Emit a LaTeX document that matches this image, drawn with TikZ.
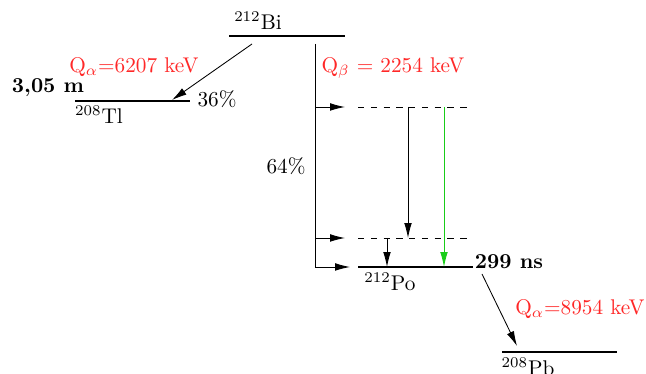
\documentclass[tikz,border=0pt]{standalone}
\usepackage{amsmath,amssymb}
\usepackage{tikz}
\usetikzlibrary{arrows.meta}
\definecolor{qred}{RGB}{255,40,40}
\definecolor{ggreen}{RGB}{25,205,25}

\begin{document}
\begin{tikzpicture}[x=0.47pt,y=-0.47pt,>={Latex[length=7pt,width=3.6pt]},
  level/.style={line width=0.8pt},
  qlab/.style={text=qred}]
\useasboundingbox (0,0) rectangle (646,374);
% levels
\coordinate (Bi1) at (229,36);
\coordinate (Bi2) at (345,36);
\coordinate (Tl1) at (75,101);
\coordinate (Tl2) at (190,101);
\coordinate (Po1) at (358,267);
\coordinate (Po2) at (473,267);
\coordinate (Pb1) at (502,352);
\coordinate (Pb2) at (617,352);
\coordinate (Ea1) at (358,107);
\coordinate (Ea2) at (468,107);
\coordinate (Eb1) at (358,238);
\coordinate (Eb2) at (468,238);
\draw[level] (Bi1)--(Bi2);
\draw[level] (Tl1)--(Tl2);
\draw[level] (Po1)--(Po2);
\draw[level] (Pb1)--(Pb2);
\draw[dashed] (Ea1)--(Ea2);
\draw[dashed] (Eb1)--(Eb2);
\node (bi) at (258,21) {$^{212}$Bi};
\node (tl) at (99,115) {$^{208}$Tl};
\node (po) at (390,282) {$^{212}$Po};
\node (pb) at (528,367) {$^{208}$Pb};
\node[font=\bfseries] (tltime) at (48,88) {3,05 m};
\node[font=\bfseries] (potime) at (509,262) {299 ns};
% alpha branches
\coordinate (A1s) at (252,44);
\coordinate (A1e) at (172,100);
\coordinate (A2s) at (482,274);
\coordinate (A2e) at (517,346);
\draw[->] (A1s)--(A1e);
\draw[->] (A2s)--(A2e);
\node[qlab] (qa1) at (134,67) {Q$_\alpha$=6207 keV};
\node[qlab] (qa2) at (580,309) {Q$_\alpha$=8954 keV};
\node (br36) at (217,99) {36\%};
% beta branch
\coordinate (B0) at (315,44);
\coordinate (B1) at (315,107);
\coordinate (B2) at (315,238);
\coordinate (B3) at (315,267);
\coordinate (B1e) at (345,107);
\coordinate (B2e) at (345,238);
\coordinate (B3e) at (350,267);
\draw (B0)--(B3);
\draw[->] (B1)--(B1e);
\draw[->] (B2)--(B2e);
\draw[->] (B3)--(B3e);
\node[qlab] (qb) at (393,68) {Q$_\beta$ = 2254 keV};
\node (br64) at (286,166) {64\%};
% gammas
\coordinate (G1s) at (408,107);
\coordinate (G1e) at (408,238);
\coordinate (G2s) at (444,107);
\coordinate (G2e) at (444,267);
\coordinate (G3s) at (387,238);
\coordinate (G3e) at (387,267);
\draw[->] (G1s)--(G1e);
\draw[->,ggreen] (G2s)--(G2e);
\draw[->] (G3s)--(G3e);
\end{tikzpicture}
\end{document}
